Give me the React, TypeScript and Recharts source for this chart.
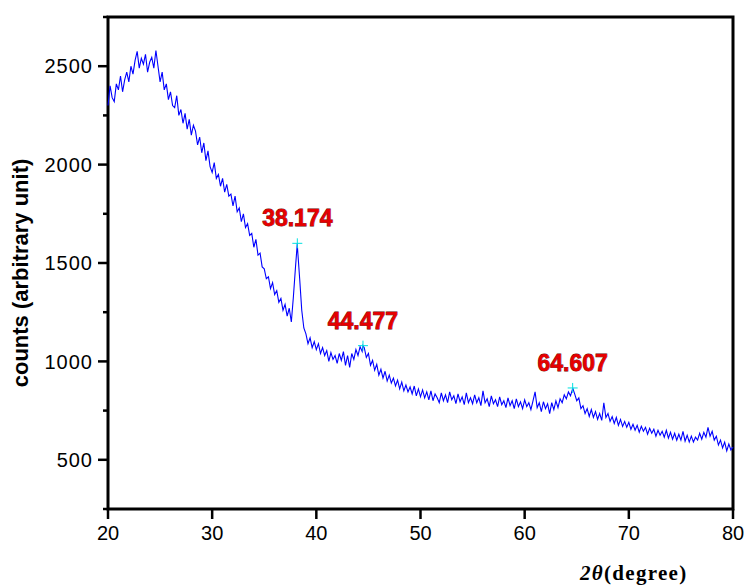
import React from 'react';
import { LineChart, Line, XAxis, YAxis, ReferenceArea, ReferenceDot } from 'recharts';

// scan grid: 20° .. 80°, 0.2° apart
const startAngle = 20;
const angleStep = 0.2;

// counts, one row per 5 degrees
const counts = [
  2300, 2400, 2340, 2320, 2410, 2380, 2450, 2370, 2430, 2470, 2420, 2500, 2460, 2530, 2575, 2490, 2540, 2510, 2560, 2470, 2520, 2545, 2490, 2580, 2500,
  2420, 2470, 2380, 2410, 2330, 2370, 2300, 2290, 2350, 2250, 2280, 2210, 2260, 2180, 2230, 2150, 2200, 2170, 2100, 2140, 2060, 2110, 2020, 2070, 1990,
  1960, 2010, 1930, 1950, 1890, 1930, 1860, 1900, 1840, 1850, 1790, 1840, 1760, 1780, 1710, 1750, 1680, 1700, 1640, 1650, 1580, 1620, 1540, 1550, 1480,
  1470, 1420, 1430, 1370, 1400, 1340, 1360, 1300, 1320, 1260, 1290, 1230, 1270, 1200, 1330, 1480, 1570, 1420, 1260, 1170, 1140, 1090, 1120, 1070, 1100,
  1060, 1090, 1040, 1070, 1030, 1055, 1000, 1045, 1010, 1030, 990, 1040, 1005, 1050, 980, 1030, 970, 1040, 1010, 1060, 1030, 1075, 1050, 1070, 1020,
  1040, 980, 1005, 955, 985, 930, 960, 915, 950, 900, 930, 890, 915, 875, 905, 860, 895, 850, 880, 845, 870, 835, 875, 825, 860,
  820, 855, 815, 845, 805, 850, 800, 835, 815, 790, 840, 800, 830, 790, 845, 805, 825, 785, 835, 795, 820, 780, 840, 790, 815,
  785, 830, 790, 815, 775, 850, 790, 810, 770, 825, 785, 805, 770, 820, 780, 800, 765, 815, 775, 800, 760, 810, 770, 795, 760,
  805, 770, 790, 755, 800, 845, 765, 790, 745, 795, 760, 785, 735, 790, 755, 800, 765, 810, 790, 830, 810, 845, 825, 860, 835,
  800, 815, 760, 775, 735, 760, 720, 755, 715, 745, 705, 735, 700, 790, 715, 735, 695, 720, 685, 715, 675, 705, 670, 695, 665,
  690, 655, 680, 650, 675, 640, 670, 645, 665, 630, 660, 635, 655, 620, 650, 625, 645, 615, 650, 610, 640, 605, 635, 600, 630,
  600, 645, 595, 625, 590, 620, 590, 615, 600, 635, 605, 640, 615, 665, 620, 645, 600, 620, 575, 600, 560, 590, 545, 580, 550,
  565,
];

const peakAngles = [38.174, 44.477, 64.607];
const peakCounts = [1600, 1080, 865];
const peakLabels = ['38.174', '44.477', '64.607'];

const xTicks = [20, 30, 40, 50, 60, 70, 80];
const yTicks = [250, 500, 750, 1000, 1250, 1500, 1750, 2000, 2250, 2500, 2750];
const yLabels = [500, 1000, 1500, 2000, 2500];

const data = [
  ...counts.map((c, i) => ({ angle: startAngle + i * angleStep, counts: c })),
  ...peakAngles.map((a, i) => ({ angle: a, counts: peakCounts[i] })),
].sort((a, b) => a.angle - b.angle);

const sans = '"Liberation Sans", Arial, sans-serif';

const YTick = ({ x, y, payload }: any) => {
  const major = yLabels.includes(payload.value);
  return (
    <g>
      <line x1={x} x2={x - (major ? 10 : 5)} y1={y} y2={y} stroke="#000" strokeWidth={2.5} />
      {major && (
        <text x={x - 15} y={y} dy="0.36em" textAnchor="end" fontSize={20} letterSpacing={1}
          fontFamily={sans} fill="#000">
          {payload.value}
        </text>
      )}
    </g>
  );
};

const XTick = ({ x, y, payload }: any) => (
  <g>
    <line x1={x} x2={x} y1={y} y2={y + 10} stroke="#000" strokeWidth={2.5} />
    <text x={x} y={y + 31} textAnchor="middle" fontSize={20} fontFamily={sans} fill="#000">
      {payload.value}
    </text>
  </g>
);

const peakMark = (label: string) => (props: any) => {
  const { cx, cy } = props;
  return (
    <g>
      <line x1={cx - 5} x2={cx + 5} y1={cy} y2={cy} stroke="#00e0e0" strokeWidth={1} />
      <line x1={cx} x2={cx} y1={cy - 5} y2={cy + 5} stroke="#00e0e0" strokeWidth={1} />
      <text x={cx} y={cy - 17} textAnchor="middle" fontSize={23} fontWeight="bold" fontFamily={sans}
        fill="#e60000" stroke="#6b0000" strokeWidth={0.8} paintOrder="stroke">
        {label}
      </text>
    </g>
  );
};

export default function App() {
  return (
    <div style={{ position: 'absolute', left: 0, top: 0, width: 745, height: 585, background: '#fff' }}>
      <LineChart width={745} height={585} data={data} margin={{ top: 17, right: 12, bottom: 0, left: 0 }}>
        <XAxis dataKey="angle" type="number" domain={[20, 80]} ticks={xTicks} interval={0}
          axisLine={false} tickLine={false} tickSize={0} tickMargin={0} height={76} tick={<XTick />} />
        <YAxis type="number" domain={[250, 2750]} ticks={yTicks} interval={0} allowDataOverflow
          axisLine={false} tickLine={false} tickSize={0} tickMargin={0} width={108} tick={<YTick />} />
        <ReferenceArea x1={20} x2={80} y1={250} y2={2750} fill="none" stroke="#000" strokeWidth={3} />
        <Line type="linear" dataKey="counts" stroke="#0000ff" strokeWidth={1.1} dot={false}
          isAnimationActive={false} />
        {peakAngles.map((a, i) => (
          <ReferenceDot key={a} x={a} y={peakCounts[i]} r={5} shape={peakMark(peakLabels[i])} />
        ))}
      </LineChart>
      <div style={{
        position: 'absolute', left: 21, top: 273, transform: 'translate(-50%, -50%) rotate(-90deg)',
        fontFamily: sans, fontWeight: 'bold', fontSize: 22, whiteSpace: 'nowrap', lineHeight: 1,
      }}>
        counts (arbitrary unit)
      </div>
      <div style={{
        position: 'absolute', left: 580, top: 563, fontFamily: '"Liberation Serif", "Times New Roman", serif',
        fontWeight: 'bold', fontSize: 21, letterSpacing: 1.3, whiteSpace: 'nowrap', lineHeight: 1,
      }}>
        <i>2θ</i>(degree)
      </div>
    </div>
  );
}
